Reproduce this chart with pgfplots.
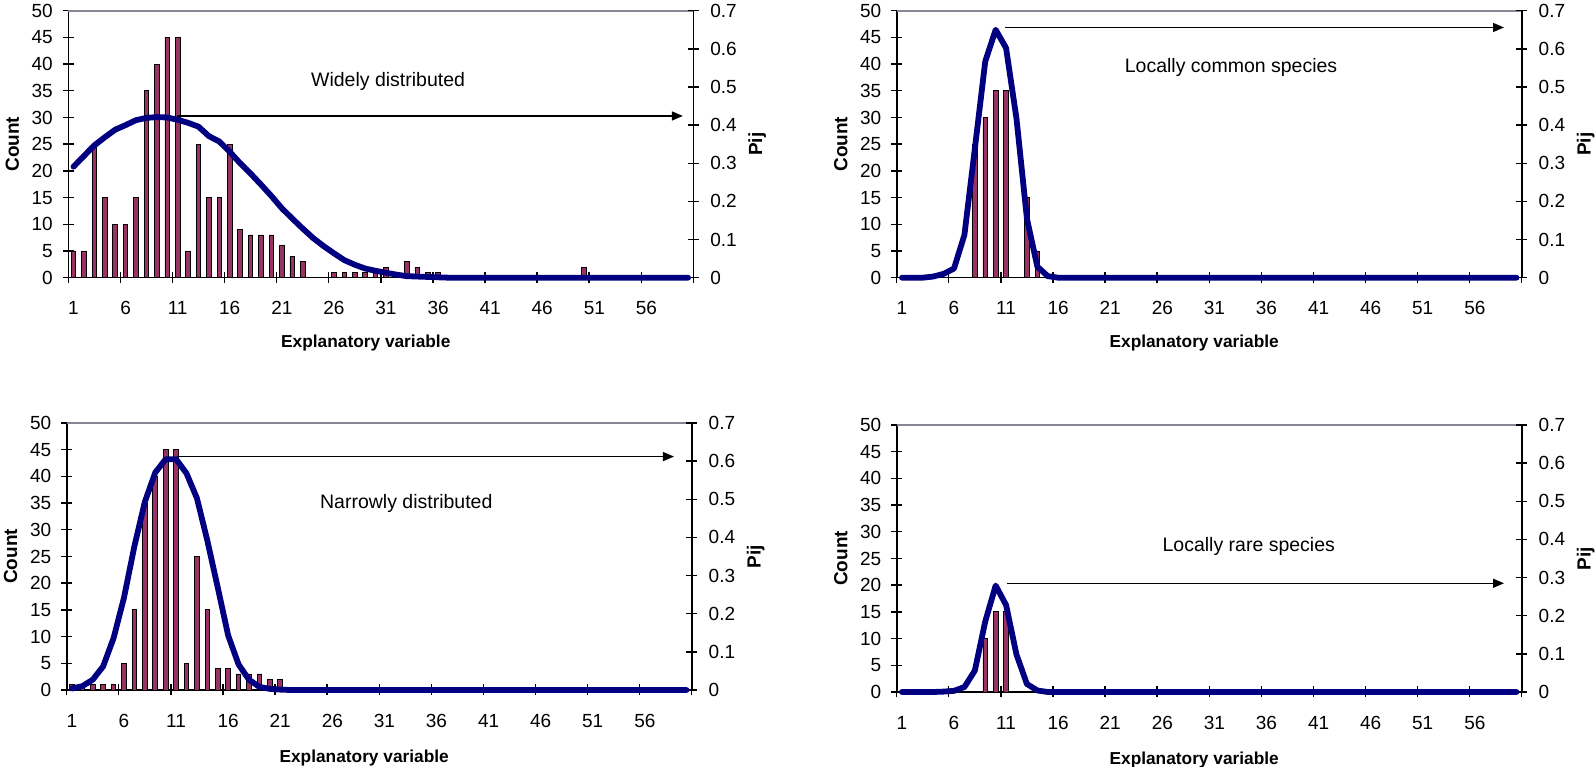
\documentclass[border=0pt]{standalone}
\usepackage{pgfplots}
\pgfplotsset{compat=1.18}
\usepackage{fontspec}
\setmainfont{Liberation Sans}
\usetikzlibrary{arrows.meta}
\definecolor{barcol}{HTML}{993366}
\definecolor{linecol}{HTML}{000080}
\definecolor{topgray}{HTML}{868696}

\tikzset{
  arr/.style={-{Triangle[length=11pt,width=9pt]}, line width=1.4pt, black},
  ann/.style={font=\fontsize{19.5}{23}\selectfont},
}
\pgfplotsset{
  base/.style={
    scale only axis, width=625pt, height=267pt, anchor=south west,
    xmin=0.5, xmax=60.5,
    /pgf/number format/assume math mode=true,
    tick style={black, line width=1.4pt},
    major tick length=11pt, tick align=center,
    ticklabel style={font=\fontsize{19}{22}\selectfont},
    clip=false,
  },
  prim/.style={base,
    ymin=0, ymax=50,
    axis x line*=bottom, axis y line*=left,
    axis line style={black, line width=1.6pt, -},
    ytick={0,5,...,50},
    yticklabel style={xshift=-6.5pt},
    xtick={0.5,5.5,...,60.5},
    xticklabels={1,6,11,16,21,26,31,36,41,46,51,56,{}},
    xticklabel style={xshift=5.2pt, yshift=-15pt},
    ylabel={Count}, xlabel={Explanatory variable},
    ylabel style={at={(axis description cs:0,0.5)}, anchor=center, yshift=56pt,
                  font=\bfseries\fontsize{19}{22}\selectfont},
    xlabel style={at={(axis description cs:0.476,0)}, anchor=center, yshift=-65pt,
                  font=\bfseries\fontsize{17.3}{20}\selectfont},
  },
  lowprim/.style={prim, xlabel style={yshift=-3.5pt}},
  sec/.style={base,
    ymin=0, ymax=0.7,
    axis x line=none, axis y line*=right,
    axis line style={black, line width=1.6pt, -},
    ytick={0,0.1,0.2,0.3,0.4,0.5,0.6,0.7},
    yticklabel style={xshift=8pt},
    ylabel={Pij},
    ylabel style={at={(axis description cs:1,0.5)}, anchor=center, yshift=-64pt,
                  font=\bfseries\fontsize{19}{22}\selectfont},
  },
  bars/.style={ybar, bar width=4.6pt, fill=barcol, draw=black, line width=0.9pt},
  pline/.style={linecol, line width=5.8pt, line join=round, line cap=round, mark=none},
}

\begin{document}
\begin{tikzpicture}
\useasboundingbox (0,0) rectangle (1595pt,767pt);

% ---------------- Panel 1: Widely distributed ----------------
\begin{axis}[prim, at={(68.3pt,489.3pt)}]
\draw[topgray, line width=2pt] (rel axis cs:0,1) -- (rel axis cs:1,1);
\addplot[bars] coordinates {(1,5)(2,5)(3,25)(4,15)(5,10)(6,10)(7,15)(8,35)(9,40)(10,45)(11,45)(12,5)(13,25)(14,15)(15,15)(16,25)(17,9)(18,8)(19,8)(20,8)(21,6)(22,4)(23,3)(26,1)(27,1)(28,1)(29,1)(30,1)(31,2)(33,3)(34,2)(35,1)(36,1)(50,2)};
\end{axis}
\begin{axis}[sec, at={(68.3pt,489.3pt)}]
\addplot[pline] coordinates {(1,0.291)(2,0.319)(3,0.347)(4,0.368)(5,0.388)(6,0.400)(7,0.413)(8,0.419)(9,0.421)(10,0.420)(11,0.414)(12,0.406)(13,0.396)(14,0.371)(15,0.357)(16,0.330)(17,0.300)(18,0.273)(19,0.244)(20,0.214)(21,0.182)(22,0.155)(23,0.129)(24,0.104)(25,0.083)(26,0.064)(27,0.046)(28,0.034)(29,0.024)(30,0.018)(31,0.013)(32,0.008)(33,0.004)(34,0.003)(35,0.002)(36,0.001)(37,0)(38,0)(39,0)(40,0)(41,0)(42,0)(43,0)(44,0)(45,0)(46,0)(47,0)(48,0)(49,0)(50,0)(51,0)(52,0)(53,0)(54,0)(55,0)(56,0)(57,0)(58,0)(59,0)(60,0)};
\draw[arr] (axis cs:10.9,0.424) -- (axis cs:59.5,0.424);
\node[ann] at (axis cs:31.2,0.514) {Widely distributed};
\end{axis}

% ---------------- Panel 2: Locally common species ----------------
\begin{axis}[prim, at={(896.7pt,489.3pt)}]
\draw[topgray, line width=2pt] (rel axis cs:0,1) -- (rel axis cs:1,1);
\addplot[bars] coordinates {(8,25)(9,30)(10,35)(11,35)(13,15)(14,5)};
\end{axis}
\begin{axis}[sec, at={(896.7pt,489.3pt)}]
\addplot[pline] coordinates {(1,0)(2,0)(3,0)(4,0.003)(5,0.010)(6,0.024)(7,0.112)(8,0.338)(9,0.567)(10,0.650)(11,0.602)(12,0.417)(13,0.155)(14,0.029)(15,0.004)(16,0)(17,0)(18,0)(19,0)(20,0)(21,0)(22,0)(23,0)(24,0)(25,0)(26,0)(27,0)(28,0)(29,0)(30,0)(31,0)(32,0)(33,0)(34,0)(35,0)(36,0)(37,0)(38,0)(39,0)(40,0)(41,0)(42,0)(43,0)(44,0)(45,0)(46,0)(47,0)(48,0)(49,0)(50,0)(51,0)(52,0)(53,0)(54,0)(55,0)(56,0)(57,0)(58,0)(59,0)(60,0)};
\draw[arr] (axis cs:10.85,0.656) -- (axis cs:58.8,0.656);
\node[ann] at (axis cs:32.6,0.550) {Locally common species};
\end{axis}

% ---------------- Panel 3: Narrowly distributed ----------------
\begin{axis}[lowprim, at={(66.7pt,77pt)}]
\draw[topgray, line width=2pt] (rel axis cs:0,1) -- (rel axis cs:1,1);
\addplot[bars] coordinates {(1,1)(2,1)(3,1)(4,1)(5,1)(6,5)(7,15)(8,35)(9,40)(10,45)(11,45)(12,5)(13,25)(14,15)(15,4)(16,4)(17,3)(18,3)(19,3)(20,2)(21,2)};
\end{axis}
\begin{axis}[sec, at={(66.7pt,77pt)}]
\addplot[pline] coordinates {(1,0.004)(2,0.010)(3,0.027)(4,0.062)(5,0.136)(6,0.242)(7,0.377)(8,0.493)(9,0.570)(10,0.605)(11,0.605)(12,0.568)(13,0.503)(14,0.392)(15,0.269)(16,0.143)(17,0.067)(18,0.027)(19,0.008)(20,0.003)(21,0.001)(22,0)(23,0)(24,0)(25,0)(26,0)(27,0)(28,0)(29,0)(30,0)(31,0)(32,0)(33,0)(34,0)(35,0)(36,0)(37,0)(38,0)(39,0)(40,0)(41,0)(42,0)(43,0)(44,0)(45,0)(46,0)(47,0)(48,0)(49,0)(50,0)(51,0)(52,0)(53,0)(54,0)(55,0)(56,0)(57,0)(58,0)(59,0)(60,0)};
\draw[arr] (axis cs:11.1,0.612) -- (axis cs:58.8,0.612);
\node[ann] at (axis cs:33.1,0.490) {Narrowly distributed};
\end{axis}

% ---------------- Panel 4: Locally rare species ----------------
\begin{axis}[lowprim, at={(896.7pt,75pt)}]
\draw[topgray, line width=2pt] (rel axis cs:0,1) -- (rel axis cs:1,1);
\addplot[bars] coordinates {(9,10)(10,15)(11,15)};
\end{axis}
\begin{axis}[sec, at={(896.7pt,75pt)}]
\addplot[pline] coordinates {(1,0)(2,0)(3,0)(4,0)(5,0.001)(6,0.003)(7,0.013)(8,0.056)(9,0.185)(10,0.279)(11,0.228)(12,0.098)(13,0.021)(14,0.004)(15,0)(16,0)(17,0)(18,0)(19,0)(20,0)(21,0)(22,0)(23,0)(24,0)(25,0)(26,0)(27,0)(28,0)(29,0)(30,0)(31,0)(32,0)(33,0)(34,0)(35,0)(36,0)(37,0)(38,0)(39,0)(40,0)(41,0)(42,0)(43,0)(44,0)(45,0)(46,0)(47,0)(48,0)(49,0)(50,0)(51,0)(52,0)(53,0)(54,0)(55,0)(56,0)(57,0)(58,0)(59,0)(60,0)};
\draw[arr] (axis cs:11.1,0.285) -- (axis cs:58.8,0.285);
\node[ann] at (axis cs:34.3,0.381) {Locally rare species};
\end{axis}
\end{tikzpicture}
\end{document}
